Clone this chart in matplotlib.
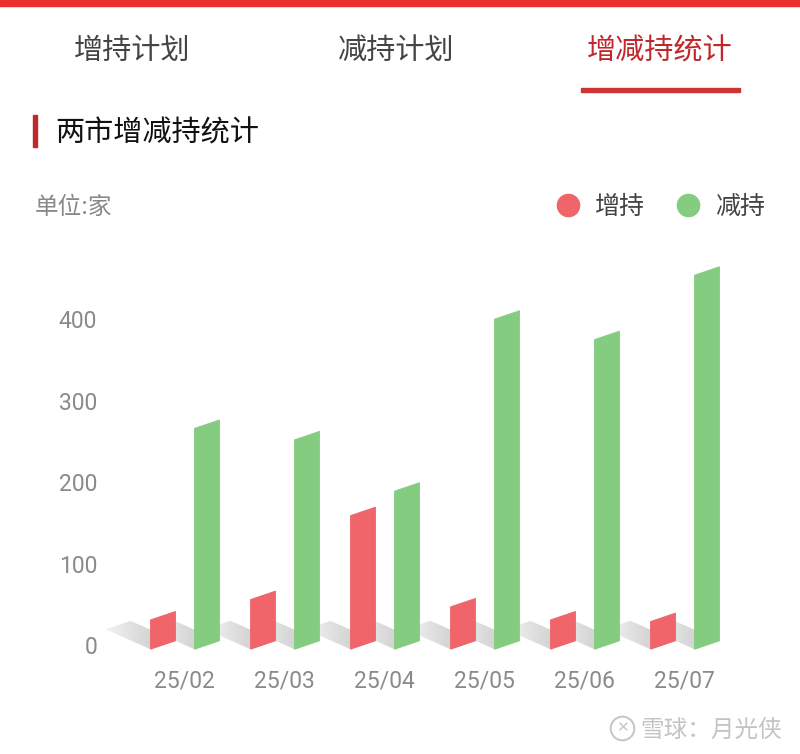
import numpy as np
import matplotlib
matplotlib.use("Agg")
import matplotlib.pyplot as plt
from matplotlib.patches import Polygon, Rectangle
from matplotlib.lines import Line2D

plt.rcParams['font.family'] = ['Noto Sans CJK SC', 'DejaVu Sans']

# Data (家)
months = ["25/02", "25/03", "25/04", "25/05", "25/06", "25/07"]
increase = [36, 61, 164, 52, 36, 34]     # 增持
decrease = [271, 257, 194, 405, 380, 459]  # 减持
yticks = [0, 100, 200, 300, 400]

RED = "#ef6569"
GREEN = "#84cc7f"
W, H = 800, 754

fig = plt.figure(figsize=(W / 100, H / 100), dpi=100)
fig.patch.set_facecolor("white")


def fx(px):
    return px / W


def fy(py):
    return 1 - py / H


# header
fig.add_artist(Rectangle((0, fy(6)), 1, 6 / H, color="#e8302f", transform=fig.transFigure))
tab_font = dict(fontsize=21, va="center", ha="center")
fig.text(fx(132), fy(51), "增持计划", color="#444444", **tab_font)
fig.text(fx(396), fy(51), "减持计划", color="#444444", **tab_font)
fig.text(fx(660), fy(51), "增减持统计", color="#c0282c", **tab_font)
fig.add_artist(Rectangle((fx(581), fy(92)), 159 / W, 4 / H, color="#cc3333", transform=fig.transFigure))

fig.add_artist(Rectangle((fx(33), fy(147)), 4 / W, 32 / H, color="#c0282c", transform=fig.transFigure))
fig.text(fx(55), fy(133), "两市增减持统计", fontsize=21, color="#111111", va="center", ha="left")

fig.text(fx(35), fy(207), "单位:家", fontsize=17, color="#888888", va="center", ha="left")
for cx, col, lab in [(568, RED, "增持"), (688, GREEN, "减持")]:
    fig.add_artist(Line2D([fx(cx)], [fy(205)], marker="o", markersize=16, color=col,
                          transform=fig.transFigure))
    fig.text(fx(cx + 27), fy(207), lab, fontsize=18, color="#444444", va="center", ha="left")

# chart area
ax = fig.add_axes([fx(100), fy(660), 680 / W, 420 / H])
ax.set_xlim(-0.84, 5.96)
ax.set_ylim(-18.4, 497)
for sp in ax.spines.values():
    sp.set_visible(False)

bw = 0.25      # bar width
s = 5.2        # half of the slant in data units
sh_dx, sh_dy = -0.45, 24.5   # shadow offset
grad = np.linspace(0.95, 0.76, 64).reshape(1, -1)

bars = []
for i in range(len(months)):
    for off, val, col in [(-0.335, increase[i], RED), (0.105, decrease[i], GREEN)]:
        xl = i + off
        xr = xl + bw
        # floor shadow with gradient
        pts = [(xl, -s), (xr, s), (xr + sh_dx, s + sh_dy), (xl + sh_dx, -s + sh_dy)]
        poly = Polygon(pts, closed=True, facecolor="none", edgecolor="none")
        ax.add_patch(poly)
        im = ax.imshow(grad, cmap="gray", vmin=0, vmax=1, aspect="auto",
                       extent=[xl + sh_dx, xr, -s, s + sh_dy], zorder=1,
                       interpolation="bicubic")
        im.set_clip_path(poly)
        bars.append(Polygon([(xl, -s), (xr, s), (xr, val + s), (xl, val - s)], closed=True,
                            facecolor=col, edgecolor=col, lw=0.6, zorder=3))

for b in bars:
    ax.add_patch(b)

ax.set_xlim(-0.84, 5.96)
ax.set_ylim(-18.4, 497)
ax.set_yticks(yticks)
ax.set_yticklabels([str(t) for t in yticks], family="Roboto")
ax.set_xticks(range(len(months)))
ax.set_xticklabels(months, family="Roboto")
ax.tick_params(axis="y", length=0, pad=2, labelsize=16.5, labelcolor="#8a8a8a")
ax.tick_params(axis="x", length=0, pad=7, labelsize=16.5, labelcolor="#8a8a8a")

# watermark
fig.add_artist(Line2D([fx(622)], [fy(728)], marker="o", markersize=17, mfc="none",
                      mec="#c8c8c8", mew=1.5, transform=fig.transFigure))
fig.text(fx(622), fy(728), "✕", fontsize=11, color="#c8c8c8", ha="center", va="center",
         family=["DejaVu Sans"])
fig.text(fx(640), fy(730), "雪球：月光侠", fontsize=17, color="#c4c4c4", va="center", ha="left")

fig.savefig("out.png", dpi=100)
